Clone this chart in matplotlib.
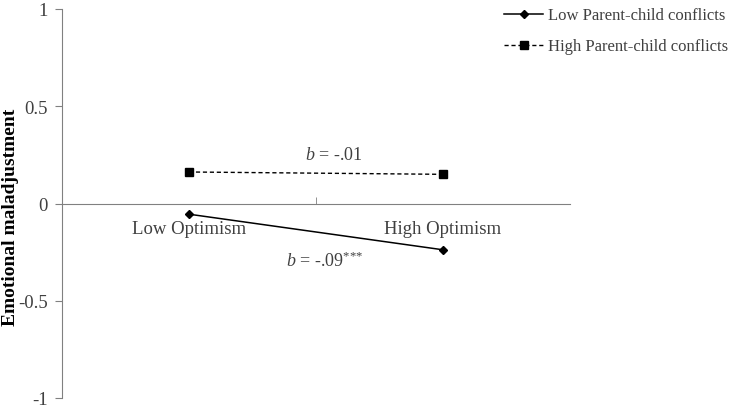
import matplotlib.pyplot as plt
from matplotlib.ticker import FixedLocator

plt.rcParams['font.family'] = ['Liberation Serif', 'DejaVu Serif']
plt.rcParams['axes.unicode_minus'] = False
plt.rcParams['mathtext.fontset'] = 'custom'
plt.rcParams['mathtext.rm'] = 'Liberation Serif'
plt.rcParams['mathtext.it'] = 'Liberation Serif:italic'

# data
categories = ['Low Optimism', 'High Optimism']
low_conflict = [-0.055, -0.238]
high_conflict = [0.162, 0.150]
series_names = ['Low Parent-child conflicts', 'High Parent-child conflicts']
yticks = [-1, -0.5, 0, 0.5, 1]
ytick_labels = ['-1', '-0.5', '0', '0.5', '1']

txt = '#404040'
axc = '#808080'

fig = plt.figure(figsize=(7.37, 4.06), dpi=100)
ax = fig.add_axes([62 / 737, 7 / 406, 508 / 737, 389 / 406])

x = list(range(len(categories)))
l1, = ax.plot(x, low_conflict, color='black', lw=1.1, marker='D', ms=4.5,
              label=series_names[0])
l2, = ax.plot(x, high_conflict, color='black', lw=1.0, ls=(0, (3, 2)), marker='s',
              ms=6, label=series_names[1])

ax.set_xlim(-0.5, 1.5)
ax.set_ylim(-1, 1)

for s in ['top', 'right']:
    ax.spines[s].set_visible(False)
ax.spines['bottom'].set_position(('data', 0))
ax.spines['bottom'].set_color(axc)
ax.spines['left'].set_color(axc)

ax.set_yticks(yticks)
ax.set_yticklabels(ytick_labels, fontsize=13.5, color=txt)
ax.tick_params(axis='y', colors=axc, labelcolor=txt, length=5, direction='out', pad=5)

ax.set_xticks(x)
ax.set_xticklabels(categories, fontsize=13.5, color=txt)
ax.tick_params(axis='x', which='major', length=0, pad=12)
ax.xaxis.set_minor_locator(FixedLocator([0.5]))
ax.tick_params(axis='x', which='minor', length=5, color=axc, direction='in')

ax.set_ylabel('Emotional maladjustment', fontsize=14, fontweight='bold', color='black')
ax.yaxis.set_label_coords(-0.085, 0.468)

ax.text(0.57, 0.25, r'$\mathit{b}$ = -.01', fontsize=13, color=txt, ha='center',
        va='center')
ax.text(0.535, -0.29, r'$\mathit{b}$ = -.$\mathit{09}^{{*}{*}{*}}$', fontsize=13,
        color=txt, ha='center', va='center')

fig.legend(handles=[l1, l2], loc='upper left', bbox_to_anchor=(496 / 737, 1.0),
           frameon=False, fontsize=12, handlelength=2.3, handletextpad=0.3,
           labelspacing=0.9, labelcolor=txt, borderaxespad=0.1)

fig.savefig('out.png', dpi=100)
